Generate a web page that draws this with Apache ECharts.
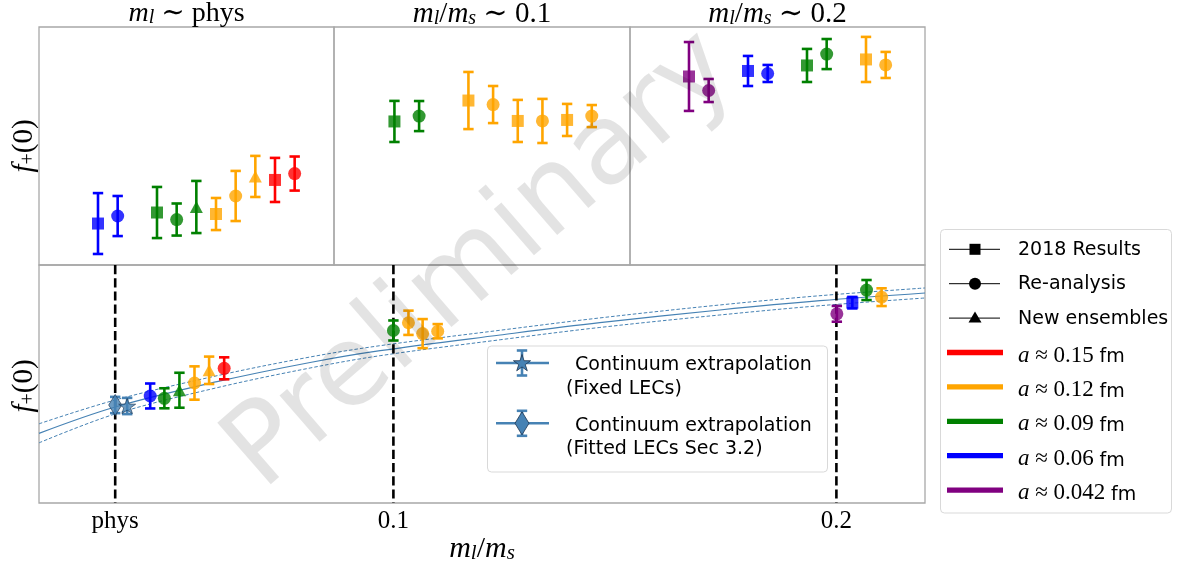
<!DOCTYPE html>
<html><head><meta charset="utf-8">
<script src="https://cdn.jsdelivr.net/npm/echarts@6/dist/echarts.min.js"></script>
<style>html,body{margin:0;padding:0;background:#fff}#c{width:1179px;height:568px}</style>
</head><body><div id="c"></div>
<script>
// ---------------- data ----------------
const spacingLabels = ['0.15','0.12','0.09','0.06','0.042'];
const spacingColors = {'0.15':'#ff0000','0.12':'#ffa500','0.09':'#008000','0.06':'#0000ff','0.042':'#800080'};
const kindNames = ['2018 Results','Re-analysis','New ensembles'];
const kindSymbols = {'2018':'rect','re':'circle','new':'triangle'};

// top panel: m_l ~ phys
const physIdx  = [3,4,6,7,8,9,10,11,12,13];
const physKind = ['2018','re','2018','re','new','2018','re','new','2018','re'];
const physA    = ['0.06','0.06','0.09','0.09','0.09','0.12','0.12','0.12','0.15','0.15'];
const physF    = [0.96731,0.96791,0.96819,0.96763,0.96863,0.96807,0.96951,0.97107,0.97079,0.97130];
const physErr  = [0.00243,0.00160,0.00204,0.00128,0.00208,0.00128,0.00200,0.00164,0.00176,0.00136];

// top panel: m_l/m_s ~ 0.1
const r01Idx  = [2,3,5,6,7,8,9,10];
const r01Kind = ['2018','re','2018','re','2018','re','2018','re'];
const r01A    = ['0.09','0.09','0.12','0.12','0.12','0.12','0.12','0.12'];
const r01F    = [0.97546,0.97589,0.97713,0.97681,0.97550,0.97550,0.97558,0.97589];
const r01Err  = [0.00164,0.00120,0.00228,0.00148,0.00168,0.00176,0.00128,0.00088];

// top panel: m_l/m_s ~ 0.2
const r02Idx  = [3,4,6,7,9,10,12,13];
const r02Kind = ['2018','re','2018','re','2018','re','2018','re'];
const r02A    = ['0.042','0.042','0.06','0.06','0.09','0.09','0.12','0.12'];
const r02F    = [0.97905,0.97793,0.97949,0.97929,0.97993,0.98084,0.98041,0.97997];
const r02Err  = [0.00275,0.00092,0.00120,0.00068,0.00132,0.00120,0.00180,0.00104];

// bottom panel: f+(0) vs m_l/m_s
const botX    = [0.0451,0.0483,0.0517,0.0551,0.0584,0.0618, 0.1000,0.1034,0.1066,0.1100, 0.2001,0.2036,0.2068,0.2102];
const botKind = ['re','re','new','re','new','re', 're','re','re','re', 're','2018','re','re'];
const botA    = ['0.06','0.09','0.09','0.12','0.12','0.15', '0.09','0.12','0.12','0.12', '0.042','0.06','0.09','0.12'];
const botF    = [0.96804,0.96776,0.96874,0.96962,0.97117,0.97141, 0.97602,0.97696,0.97564,0.97593, 0.97805,0.97941,0.98095,0.98008];
const botErr  = [0.00152,0.00122,0.00213,0.00203,0.00167,0.00134, 0.00122,0.00148,0.00177,0.00087, 0.00096,0.00070,0.00122,0.00108];

// continuum extrapolations at the physical point
const contNames = ['Fitted LECs Sec 3.2','Fixed LECs'];
const contX   = [0.0372, 0.0399];
const contF   = [0.96694, 0.96682];
const contErr = [0.00099, 0.00099];

// continuum band
const bandX    = [0.0200,0.0372,0.0602,0.0812,0.0970,0.1241,0.1466,0.1737,0.1963,0.2200];
const bandMid  = [0.96349,0.96670,0.96978,0.97212,0.97356,0.97547,0.97697,0.97852,0.97965,0.98059];
const bandHalf = [0.00116,0.00085,0.00073,0.00067,0.00061,0.00058,0.00058,0.00061,0.00061,0.00061];

// x ticks of bottom panel
const xTickValues = [0.0372, 0.1, 0.2];
const xTickLabels = ['phys', '0.1', '0.2'];

// ---------------- chart ----------------
const STEEL = '#4682b4';
const STAR_PATH = 'path://M0,-10L2.35,-3.24L9.51,-3.09L3.8,1.24L5.88,8.09L0,4L-5.88,8.09L-3.8,1.24L-9.51,-3.09L-2.35,-3.24Z';
const BOT_MIN = 0.955, BOT_MAX = 0.984;

function errRender(params, api){
  const x=api.value(0), y=api.value(1), e=api.value(2);
  const p1=api.coord([x,y+e]), p2=api.coord([x,y-e]);
  const col=api.visual('color');
  const cw=5.2;
  const st={stroke:col,lineWidth:2.6};
  return {type:'group',children:[
    {type:'line',shape:{x1:p1[0],y1:p1[1],x2:p2[0],y2:p2[1]},style:st},
    {type:'line',shape:{x1:p1[0]-cw,y1:p1[1],x2:p1[0]+cw,y2:p1[1]},style:st},
    {type:'line',shape:{x1:p2[0]-cw,y1:p2[1],x2:p2[0]+cw,y2:p2[1]},style:st}]};
}
function vlineRender(params, api){
  const x=api.value(0);
  const p1=api.coord([x,BOT_MAX]), p2=api.coord([x,BOT_MIN]);
  return {type:'line', shape:{x1:p1[0],y1:p1[1],x2:p2[0],y2:p2[1]},
    style:{stroke:'#000', lineWidth:2.6, lineDash:[9.2,4]}};
}
function pointSeries(gi, xs, kinds, as, fs, errs){
  const errData = xs.map((x,i)=>({value:[x,fs[i],errs[i]], itemStyle:{color:spacingColors[as[i]]}}));
  const mkData = xs.map((x,i)=>({value:[x,fs[i]], symbol:kindSymbols[kinds[i]],
     symbolSize: kinds[i]==='2018'?12:(kinds[i]==='new'?[13,12]:13),
     itemStyle:{color:spacingColors[as[i]]}}));
  return [
    {type:'custom', xAxisIndex:gi, yAxisIndex:gi, renderItem:errRender, data:errData, z:3, silent:true, animation:false},
    {type:'scatter', xAxisIndex:gi, yAxisIndex:gi, data:mkData, z:4, silent:true, animation:false}
  ];
}

const series = [];
series.push(...pointSeries(0, physIdx, physKind, physA, physF, physErr));
series.push(...pointSeries(1, r01Idx, r01Kind, r01A, r01F, r01Err));
series.push(...pointSeries(2, r02Idx, r02Kind, r02A, r02F, r02Err));

// band
const bandLow = bandMid.map((m,i)=>m-bandHalf[i]);
const bandHigh = bandMid.map((m,i)=>m+bandHalf[i]);
const bandWidth = bandHalf.map(h=>2*h);
const sm = 0.35;
series.push({type:'line', xAxisIndex:3, yAxisIndex:3, data:bandX.map((x,i)=>[x,bandLow[i]]), stack:'band', smooth:sm,
  showSymbol:false, lineStyle:{opacity:0}, silent:true, animation:false, z:1});
series.push({type:'line', xAxisIndex:3, yAxisIndex:3, data:bandX.map((x,i)=>[x,bandWidth[i]]), stack:'band', smooth:sm,
  showSymbol:false, lineStyle:{opacity:0}, areaStyle:{color:'rgba(70,130,180,0.17)'}, silent:true, animation:false, z:1});
series.push({type:'line', xAxisIndex:3, yAxisIndex:3, data:bandX.map((x,i)=>[x,bandMid[i]]), smooth:sm,
  showSymbol:false, lineStyle:{color:STEEL,width:1.2}, silent:true, animation:false, z:2});
series.push({type:'line', xAxisIndex:3, yAxisIndex:3, data:bandX.map((x,i)=>[x,bandHigh[i]]), smooth:sm,
  showSymbol:false, lineStyle:{color:STEEL,width:1,type:[3.5,2]}, silent:true, animation:false, z:2});
series.push({type:'line', xAxisIndex:3, yAxisIndex:3, data:bandX.map((x,i)=>[x,bandLow[i]]), smooth:sm,
  showSymbol:false, lineStyle:{color:STEEL,width:1,type:[3.5,2]}, silent:true, animation:false, z:2});
// vertical dashed guide lines
series.push({type:'custom', xAxisIndex:3, yAxisIndex:3, renderItem:vlineRender, z:2.5, silent:true, animation:false,
  clip:false, data:xTickValues.map(v=>[v, BOT_MIN])});

series.push(...pointSeries(3, botX, botKind, botA, botF, botErr));
// continuum points
series.push({type:'custom', xAxisIndex:3, yAxisIndex:3, renderItem:errRender, z:3, silent:true, animation:false,
  data:contX.map((x,i)=>({value:[x,contF[i],contErr[i]], itemStyle:{color:STEEL}}))});
series.push({type:'scatter', xAxisIndex:3, yAxisIndex:3, z:4, silent:true, animation:false,
  data:contX.map((x,i)=>({value:[x,contF[i]], symbol: i===0?'diamond':STAR_PATH, symbolKeepAspect:true,
    symbolSize: i===0?[13,21]:[17,16], itemStyle:{color:STEEL, borderColor:'#1d3550', borderWidth:0.8}}))});

const gridBorder = {show:true, borderColor:'#a8a8a8', borderWidth:1.3, backgroundColor:'transparent'};
const grids = [
  Object.assign({left:39, top:27, width:295, height:238}, gridBorder),
  Object.assign({left:334, top:27, width:296, height:238}, gridBorder),
  Object.assign({left:630, top:27, width:295, height:238}, gridBorder),
  Object.assign({left:39, top:265, width:886, height:238}, gridBorder)
];
const hid = {axisLine:{show:false}, axisTick:{show:false}, axisLabel:{show:false}, splitLine:{show:false}};
const xAxes = [
  Object.assign({type:'value', gridIndex:0, min:0, max:15}, hid),
  Object.assign({type:'value', gridIndex:1, min:-0.45, max:11.55}, hid),
  Object.assign({type:'value', gridIndex:2, min:0, max:15}, hid),
  {type:'value', gridIndex:3, min:0.02, max:0.22, axisLine:{show:false}, axisTick:{show:false}, splitLine:{show:false},
   axisLabel:{show:true, customValues:xTickValues, margin:6, color:'#000', fontFamily:'Liberation Serif', fontSize:25,
     formatter:(v)=>{const k=xTickValues.findIndex(t=>Math.abs(t-v)<1e-9); return k>=0?xTickLabels[k]:'';}}}
];
const yAxes = [0,1,2].map(g=>Object.assign({type:'value', gridIndex:g, min:0.964, max:0.983}, hid));
yAxes.push(Object.assign({type:'value', gridIndex:3, min:BOT_MIN, max:BOT_MAX}, hid));

// ---------------- text / legends ----------------
const SERIF = 'Liberation Serif, DejaVu Serif, serif';
const SANS = 'DejaVu Sans, sans-serif';
function mathRich(size, sansSize){
  return {
    i:{fontFamily:SERIF, fontStyle:'italic', fontSize:size, lineHeight:size+4, verticalAlign:'bottom', fill:'#000'},
    r:{fontFamily:SERIF, fontSize:size, lineHeight:size+4, verticalAlign:'bottom', fill:'#000'},
    sub:{fontFamily:SERIF, fontStyle:'italic', fontSize:Math.round(size*0.7), lineHeight:Math.round(size*0.62), verticalAlign:'bottom', fill:'#000'},
    subr:{fontFamily:SERIF, fontSize:Math.round(size*0.7), lineHeight:Math.round(size*0.62), verticalAlign:'bottom', fill:'#000'},
    s:{fontFamily:SANS, fontSize:sansSize||19, lineHeight:size+4, verticalAlign:'bottom', fill:'#000'}
  };
}
function mtext(x,y,txt,size,rot){
  return {type:'text', x:x, y:y, rotation:rot||0, z:50, silent:true,
    style:{text:txt, rich:mathRich(size), align:'center', verticalAlign:'middle'}};
}
const graphics = [];
graphics.push(mtext(186.5, 12, '{i|m}{sub|l}{r| ∼ phys}', 28));
graphics.push(mtext(482, 12, '{i|m}{sub|l}{r|/}{i|m}{sub|s}{r| ∼ 0.1}', 29));
graphics.push(mtext(777.5, 12, '{i|m}{sub|l}{r|/}{i|m}{sub|s}{r| ∼ 0.2}', 29));
graphics.push(mtext(22, 146, '{i|f}{subr|+}{r|(0)}', 29, Math.PI/2));
graphics.push(mtext(22, 386, '{i|f}{subr|+}{r|(0)}', 29, Math.PI/2));
graphics.push(mtext(482, 547, '{i|m}{sub|l}{r|/}{i|m}{sub|s}', 30));

// main legend
graphics.push({type:'rect', z:40, silent:true, shape:{x:940.5, y:229.5, width:231, height:283.5, r:4},
  style:{fill:'rgba(255,255,255,0.85)', stroke:'#d9d9d9', lineWidth:1}});
const legY0 = 249.3, legDY = 34.4;
kindNames.forEach((nm,i)=>{
  const y = legY0 + i*legDY;
  graphics.push({type:'line', z:41, silent:true, shape:{x1:949, y1:y, x2:1000, y2:y}, style:{stroke:'#000', lineWidth:1}});
  let mk;
  if (i===0) mk = {type:'rect', shape:{x:969.5, y:y-5.5, width:11, height:11}};
  else if (i===1) mk = {type:'circle', shape:{cx:975, cy:y, r:6}};
  else mk = {type:'polygon', shape:{points:[[975,y-6.5],[981.5,y+4.5],[968.5,y+4.5]]}};
  mk.z=42; mk.silent=true; mk.style={fill:'#000'};
  graphics.push(mk);
  graphics.push({type:'text', x:1018, y:y+0.5, z:42, silent:true,
    style:{text:nm, fontFamily:SANS, fontSize:19, fill:'#000', align:'left', verticalAlign:'middle'}});
});
spacingLabels.forEach((a,i)=>{
  const y = legY0 + (i+3)*legDY;
  graphics.push({type:'line', z:41, silent:true, shape:{x1:947, y1:y, x2:1003, y2:y}, style:{stroke:spacingColors[a], lineWidth:5.3}});
  graphics.push({type:'text', x:1018, y:y+1, z:42, silent:true,
    style:{text:'{i|a}{r| ≈ '+a+' }{s|fm}', rich:mathRich(23, 19), align:'left', verticalAlign:'middle'}});
});

// continuum legend
graphics.push({type:'rect', z:40, silent:true, shape:{x:487.5, y:346, width:340, height:126, r:4},
  style:{fill:'rgba(255,255,255,0.8)', stroke:'#d9d9d9', lineWidth:1}});
function starPts(cx,cy,R){const p=[];for(let k=0;k<10;k++){const r=k%2?R*0.382:R;const an=-Math.PI/2+k*Math.PI/5;p.push([cx+r*Math.cos(an),cy+r*Math.sin(an)]);}return p;}
[['Fixed LECs',363,'star'],['Fitted LECs Sec 3.2',423.3,'diamond']].forEach(([lab,y,shape])=>{
  graphics.push({type:'line', z:41, silent:true, shape:{x1:496, y1:y, x2:549, y2:y}, style:{stroke:STEEL, lineWidth:2.6}});
  graphics.push({type:'line', z:41, silent:true, shape:{x1:522, y1:y-12.5, x2:522, y2:y+12.5}, style:{stroke:STEEL, lineWidth:2.6}});
  graphics.push({type:'line', z:41, silent:true, shape:{x1:516.8, y1:y-12.5, x2:527.2, y2:y-12.5}, style:{stroke:STEEL, lineWidth:2.6}});
  graphics.push({type:'line', z:41, silent:true, shape:{x1:516.8, y1:y+12.5, x2:527.2, y2:y+12.5}, style:{stroke:STEEL, lineWidth:2.6}});
  const pts = shape==='star'? starPts(522,y+0.5,9) : [[522,y-11.5],[529,y],[522,y+11.5],[515,y]];
  graphics.push({type:'polygon', z:42, silent:true, shape:{points:pts}, style:{fill:STEEL, stroke:'#1d3550', lineWidth:0.8}});
  graphics.push({type:'text', x:575, y:y+2.5, z:42, silent:true,
    style:{text:'Continuum extrapolation', fontFamily:SANS, fontSize:19, fill:'#000', align:'left', verticalAlign:'middle'}});
  graphics.push({type:'text', x:566, y:y+26, z:42, silent:true,
    style:{text:'('+lab+')', fontFamily:SANS, fontSize:19, fill:'#000', align:'left', verticalAlign:'middle'}});
});

// watermark
graphics.push({type:'text', x:482, y:262, rotation:41*Math.PI/180, z:100, silent:true,
  style:{text:'Preliminary', fontFamily:'DejaVu Sans', fontSize:112, fill:'rgba(0,0,0,0.11)', align:'center', verticalAlign:'middle'}});

const chart = echarts.init(document.getElementById('c'), null, {renderer:'canvas'});
chart.setOption({
  backgroundColor:'#fff', animation:false,
  grid:grids, xAxis:xAxes, yAxis:yAxes, series:series, graphic:{elements:graphics}
});
</script></body></html>
